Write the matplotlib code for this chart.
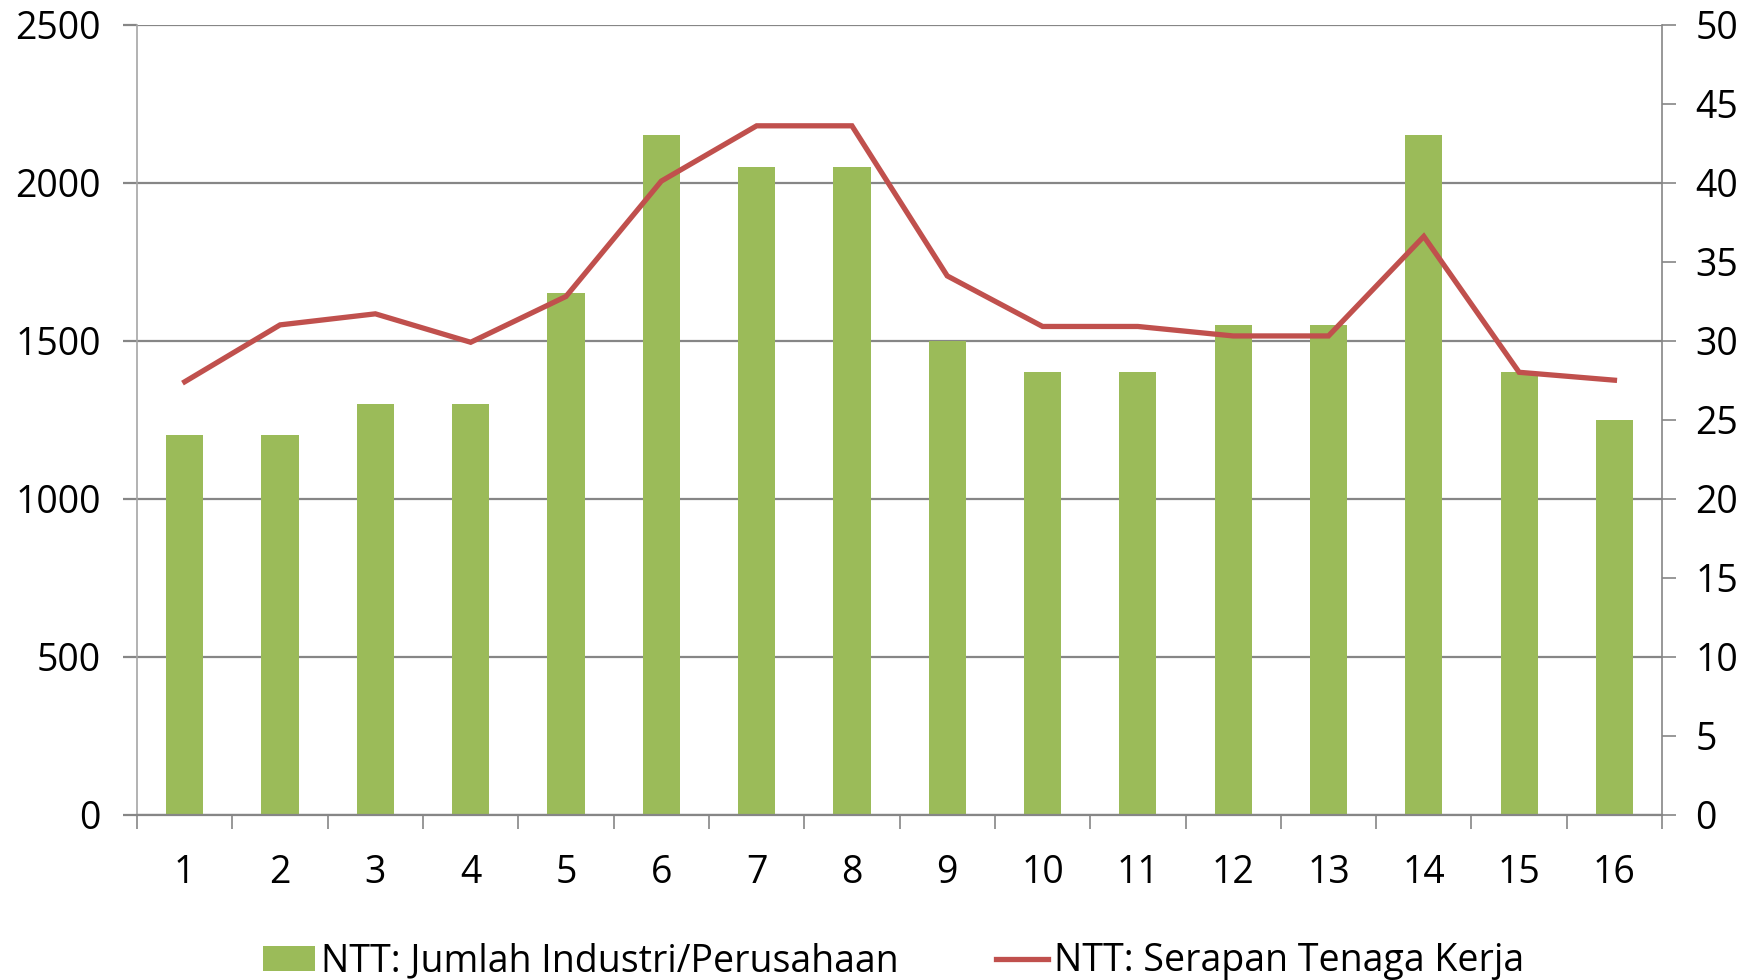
import matplotlib
matplotlib.use("Agg")
import matplotlib.pyplot as plt
from matplotlib.lines import Line2D
from matplotlib.patches import Patch
import numpy as np

categories = [str(i) for i in range(1, 17)]
jumlah_industri = [1200, 1200, 1300, 1300, 1650, 2150, 2050, 2050, 1500, 1400, 1400, 1550, 1550, 2150, 1400, 1250]
serapan_tenaga = [27.4, 31.0, 31.7, 29.9, 32.8, 40.1, 43.6, 43.6, 34.1, 30.9, 30.9, 30.3, 30.3, 36.6, 28.0, 27.5]
left_ticks = [0, 500, 1000, 1500, 2000, 2500]
right_ticks = [0, 5, 10, 15, 20, 25, 30, 35, 40, 45, 50]

plt.rcParams['font.family'] = ['Open Sans', 'DejaVu Sans']
GREEN = '#9BBB59'
RED = '#C0504D'
GRID = '#868686'
FS = 27

fig = plt.figure(figsize=(17.62, 9.80), dpi=100)
ax = fig.add_axes([0.0778, 0.1687, 0.8655, 0.8061])
x = np.arange(1, len(categories) + 1)

ax.set_axisbelow(True)
ax.yaxis.grid(True, color=GRID, linewidth=1.6)
ax.bar(x, jumlah_industri, width=0.39, color=GREEN, zorder=2)
ax.set_ylim(0, 2500)
ax.set_xlim(0.5, len(categories) + 0.5)
ax.set_yticks(left_ticks)
ax.set_yticklabels([str(v) for v in left_ticks], fontsize=FS)
ax.set_xticks(x)
ax.set_xticklabels(categories, fontsize=FS)
ax.set_xticks(np.arange(0.5, len(categories) + 1), minor=True)
ax.tick_params(axis='x', which='major', length=0, pad=28)
ax.tick_params(axis='x', which='minor', length=10, width=1.2, color=GRID, direction='out')
ax.tick_params(axis='y', length=10, width=1.6, color=GRID, pad=16)
ax.spines['top'].set_visible(False)
ax.spines['left'].set_color('#A6A6A6')
ax.spines['left'].set_linewidth(1.2)
ax.spines['bottom'].set_color(GRID)
ax.spines['bottom'].set_linewidth(1.6)
ax.spines['right'].set_visible(False)

ax2 = ax.twinx()
ax2.plot(x, serapan_tenaga, color=RED, linewidth=3.8, solid_joinstyle='miter', zorder=3)
ax2.set_ylim(0, 50)
ax2.set_yticks(right_ticks)
ax2.set_yticklabels([str(v) for v in right_ticks], fontsize=FS)
ax2.tick_params(axis='y', length=10, width=1.2, color=GRID, pad=14)
ax2.spines['top'].set_visible(False)
ax2.spines['left'].set_visible(False)
ax2.spines['bottom'].set_visible(False)
ax2.spines['right'].set_color(GRID)
ax2.spines['right'].set_linewidth(1.2)

handles = [Patch(facecolor=GREEN, edgecolor='none'), Line2D([0], [0], color=RED, linewidth=3.8)]
labels = ['NTT: Jumlah Industri/Perusahaan', 'NTT: Serapan Tenaga Kerja']
fig.legend(handles, labels, loc='center', bbox_to_anchor=(0.507, 0.019), ncol=2, frameon=False,
           fontsize=FS, handlelength=1.4, handleheight=0.65, handletextpad=0.15, columnspacing=2.6)

fig.savefig('out.png', dpi=100)
